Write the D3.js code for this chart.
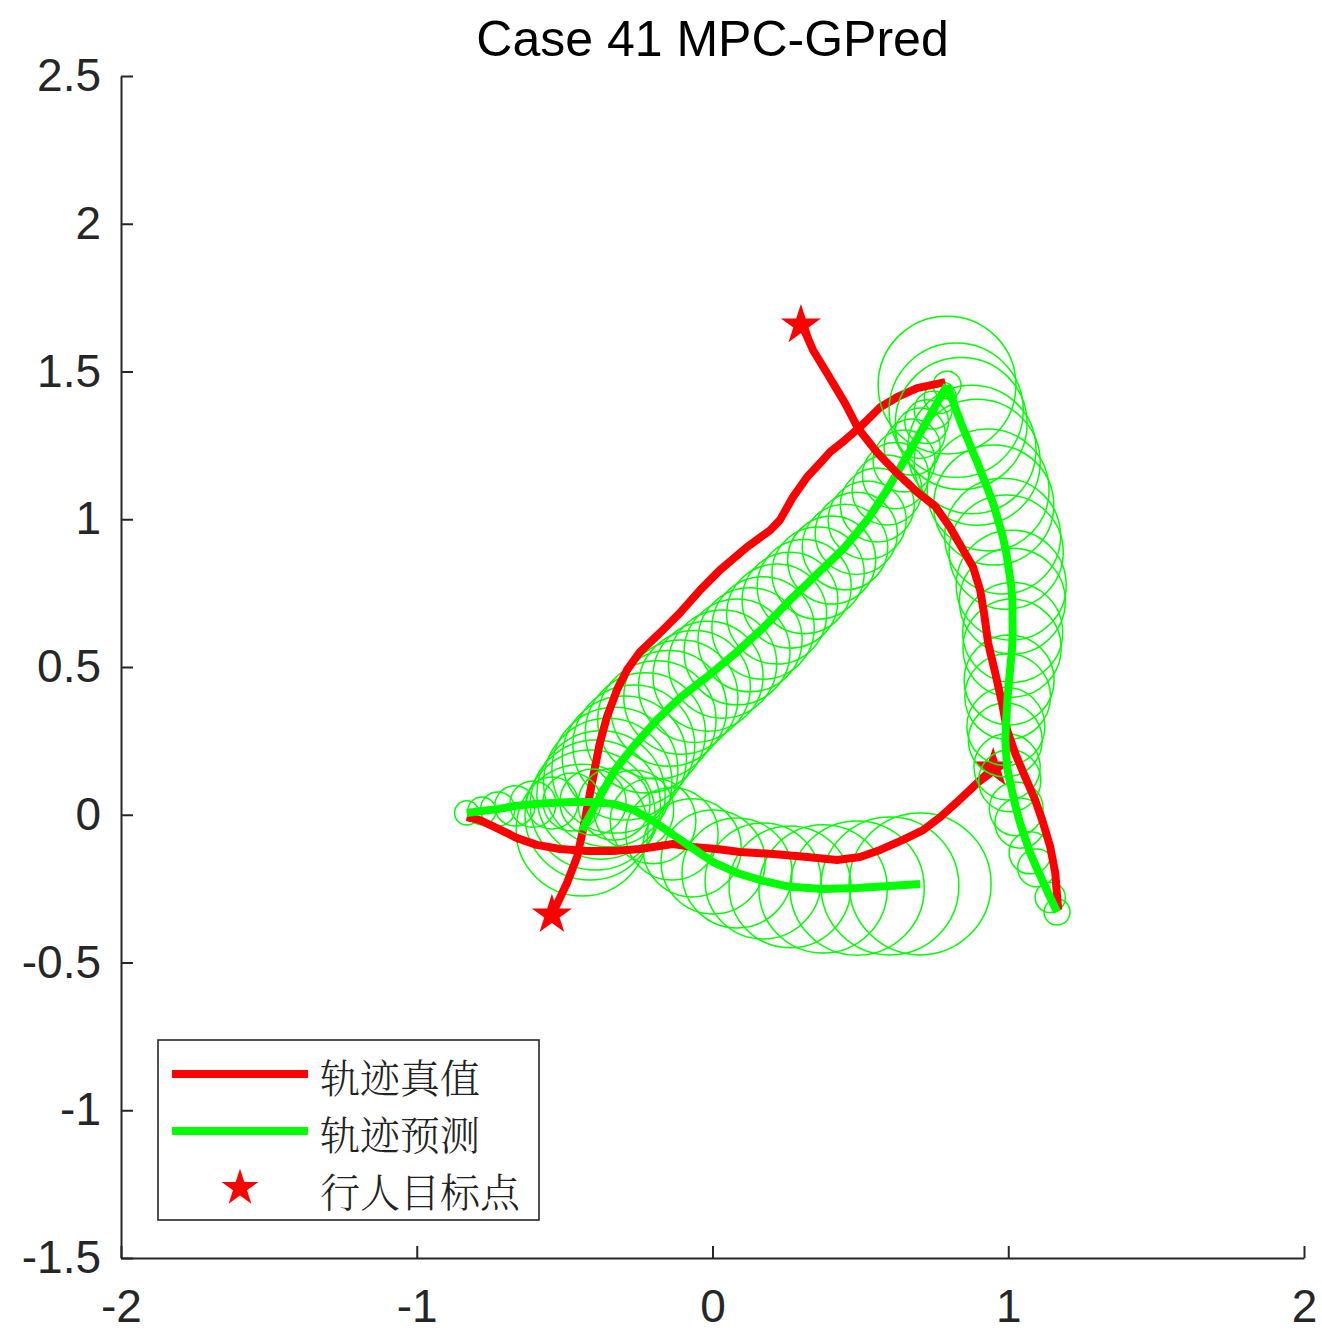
<!DOCTYPE html>
<html>
<head>
<meta charset="utf-8">
<script src="https://cdn.jsdelivr.net/npm/d3@7"></script>
<style>
  html, body { margin: 0; padding: 0; background: #fff; }
  svg { display: block; }
</style>
</head>
<body>
<svg id="chart" width="1322" height="1335"></svg>
<script>
const TITLE = 'Case 41 MPC-GPred';
const LEGEND_LABELS = ['轨迹真值', '轨迹预测', '行人目标点'];
const X_TICKS = [-2, -1, 0, 1, 2];
const Y_TICKS = [-1.5, -1, -0.5, 0, 0.5, 1, 1.5, 2, 2.5];

// ground truth (red), last point sits on the goal star
const truth1 = [
  [1.169, -0.322], [1.159, -0.197], [1.142, -0.109], [1.118, -0.028], [1.091, 0.050],
  [1.057, 0.128], [1.023, 0.209], [0.996, 0.287], [0.979, 0.378], [0.956, 0.480],
  [0.932, 0.581], [0.918, 0.683], [0.905, 0.760], [0.881, 0.838], [0.844, 0.902],
  [0.803, 0.973], [0.753, 1.044], [0.692, 1.092], [0.624, 1.156], [0.556, 1.227],
  [0.492, 1.308], [0.448, 1.393], [0.391, 1.488], [0.340, 1.572], [0.313, 1.633],
  [0.299, 1.657]
];
const truth2 = [
  [0.787, 1.464], [0.692, 1.444], [0.624, 1.413], [0.567, 1.379], [0.499, 1.312],
  [0.448, 1.268], [0.397, 1.227], [0.364, 1.190], [0.320, 1.143], [0.272, 1.075],
  [0.228, 0.997], [0.195, 0.963], [0.117, 0.906], [0.025, 0.828], [-0.042, 0.760],
  [-0.110, 0.683], [-0.178, 0.615], [-0.245, 0.551], [-0.289, 0.490], [-0.323, 0.422],
  [-0.357, 0.331], [-0.381, 0.243], [-0.397, 0.162], [-0.414, 0.074], [-0.438, -0.052],
  [-0.458, -0.143], [-0.492, -0.231], [-0.543, -0.339]
];
const truth3 = [
  [-0.831, -0.008], [-0.787, -0.018], [-0.729, -0.045], [-0.661, -0.079], [-0.594, -0.102],
  [-0.516, -0.116], [-0.425, -0.123], [-0.337, -0.123], [-0.245, -0.116], [-0.178, -0.106],
  [-0.134, -0.099], [-0.066, -0.109], [0.015, -0.116], [0.093, -0.126], [0.205, -0.133],
  [0.320, -0.143], [0.421, -0.153], [0.499, -0.143], [0.567, -0.119], [0.644, -0.085],
  [0.712, -0.052], [0.770, -0.008], [0.827, 0.043], [0.881, 0.094], [0.949, 0.158]
];

// predicted positions (green) and uncertainty radius at each step
const pred1 = [
  [1.165, -0.329], [1.142, -0.280], [1.096, -0.180], [1.074, -0.129], [1.040, -0.028],
  [1.027, 0.020], [1.005, 0.115], [0.996, 0.162], [0.990, 0.253], [0.992, 0.299],
  [0.998, 0.400], [1.003, 0.456], [1.013, 0.564], [1.015, 0.617], [1.014, 0.723],
  [1.010, 0.777], [0.993, 0.889], [0.981, 0.943], [0.951, 1.048], [0.932, 1.099],
  [0.895, 1.193], [0.877, 1.236], [0.841, 1.324], [0.824, 1.369], [0.793, 1.454]
];
const radius1 = [0.044, 0.051, 0.064, 0.071, 0.085, 0.091, 0.105, 0.112, 0.125, 0.132,
  0.145, 0.152, 0.166, 0.169, 0.179, 0.186, 0.193, 0.196, 0.203, 0.206,
  0.213, 0.217, 0.223, 0.227, 0.233];

const pred2 = [
  [0.793, 1.454], [0.770, 1.412], [0.746, 1.369], [0.724, 1.330], [0.702, 1.291],
  [0.675, 1.244], [0.648, 1.197], [0.619, 1.148], [0.590, 1.099], [0.557, 1.048],
  [0.523, 0.997], [0.486, 0.952], [0.448, 0.906], [0.403, 0.862], [0.357, 0.818],
  [0.310, 0.772], [0.262, 0.726], [0.217, 0.679], [0.171, 0.632], [0.127, 0.592],
  [0.083, 0.551], [0.034, 0.510], [-0.015, 0.469], [-0.061, 0.434], [-0.107, 0.398],
  [-0.148, 0.360], [-0.188, 0.321], [-0.227, 0.277], [-0.266, 0.233], [-0.298, 0.192],
  [-0.330, 0.151], [-0.354, 0.109], [-0.377, 0.067], [-0.396, 0.033], [-0.414, -0.001],
  [-0.441, -0.052]
];
const radius2 = [0.047, 0.054, 0.064, 0.074, 0.085, 0.095, 0.105, 0.112, 0.118, 0.125,
  0.132, 0.139, 0.145, 0.149, 0.156, 0.159, 0.162, 0.169, 0.173, 0.176,
  0.179, 0.183, 0.186, 0.189, 0.193, 0.196, 0.200, 0.203, 0.206, 0.210,
  0.213, 0.217, 0.217, 0.220, 0.220, 0.223];

const pred3 = [
  [-0.831, 0.006], [-0.780, 0.013], [-0.726, 0.019], [-0.668, 0.030], [-0.607, 0.036],
  [-0.543, 0.040], [-0.475, 0.043], [-0.404, 0.043], [-0.333, 0.036], [-0.266, 0.016],
  [-0.201, -0.021], [-0.137, -0.065], [-0.069, -0.112], [0.002, -0.160], [0.083, -0.197],
  [0.171, -0.224], [0.262, -0.244], [0.374, -0.251], [0.489, -0.248], [0.600, -0.241],
  [0.702, -0.234]
];
const radius3 = [0.041, 0.047, 0.058, 0.068, 0.078, 0.088, 0.098, 0.112, 0.122, 0.135,
  0.145, 0.156, 0.166, 0.176, 0.186, 0.196, 0.206, 0.217, 0.227, 0.233, 0.240];

const goals = [[0.299, 1.657], [-0.543, -0.339], [0.949, 0.158]];

const RED = '#ff0000';
const GREEN = '#00ff00';
const AXIS_COLOR = '#262626';
const FONT = '"Liberation Sans", Arial, Helvetica, sans-serif';
const CJK_FONT = '"Noto Serif CJK SC", "Noto Sans CJK SC", sans-serif';

function translate(x, y) {
  return `translate(${x}, ${y})`;
}

function draw() {
  const svg = d3.select('#chart');

  const x = d3.scaleLinear().domain([-2, 2]).range([121, 1304]);
  const y = d3.scaleLinear().domain([-1.5, 2.5]).range([1258, 76]);

  const line = d3.line()
    .x(d => x(d[0]))
    .y(d => y(d[1]));

  // draw order follows the picture: diagonal walker, bottom walker, right walker
  const peds = [
    {truth: truth2, pred: pred2, radius: radius2, goal: goals[1]},
    {truth: truth3, pred: pred3, radius: radius3, goal: goals[2]},
    {truth: truth1, pred: pred1, radius: radius1, goal: goals[0]},
  ];

  const plot = svg.append('g').attr('class', 'plot');

  peds.forEach(p => {
    const g = plot.append('g');

    g.selectAll('circle')
      .data(p.pred.map((d, i) => ({c: d, r: p.radius[i]})))
      .enter().append('circle')
        .attr('cx', d => x(d.c[0]))
        .attr('cy', d => y(d.c[1]))
        .attr('r', d => x(d.r) - x(0))
        .attr('fill', 'none')
        .attr('stroke', GREEN)
        .attr('stroke-width', 1.5);

    g.append('path')
      .attr('d', line(p.truth))
      .attr('fill', 'none')
      .attr('stroke', RED)
      .attr('stroke-width', 8)
      .attr('stroke-linejoin', 'round');

    g.append('path')
      .attr('d', d3.symbol(d3.symbolStar, 500)())
      .attr('transform', translate(x(p.goal[0]), y(p.goal[1])))
      .attr('fill', RED);

    g.append('path')
      .attr('d', line(p.pred))
      .attr('fill', 'none')
      .attr('stroke', GREEN)
      .attr('stroke-width', 8)
      .attr('stroke-linejoin', 'round');
  });

  const xAxis = svg.append('g')
    .attr('transform', translate(0, 1258))
    .call(d3.axisBottom(x)
      .tickValues(X_TICKS)
      .tickFormat(d => String(d))
      .tickSizeInner(-12)
      .tickSizeOuter(0)
      .tickPadding(31));

  const yAxis = svg.append('g')
    .attr('transform', translate(121, 0))
    .call(d3.axisLeft(y)
      .tickValues(Y_TICKS)
      .tickFormat(d => String(d))
      .tickSizeInner(-12)
      .tickSizeOuter(0)
      .tickPadding(20));

  [xAxis, yAxis].forEach(a => {
    a.select('.domain').attr('stroke', AXIS_COLOR).attr('stroke-width', 2);
    a.selectAll('.tick line').attr('stroke', AXIS_COLOR).attr('stroke-width', 2);
    a.selectAll('.tick text')
      .attr('fill', AXIS_COLOR)
      .style('font-family', FONT)
      .style('font-size', '46px');
  });

  svg.append('text')
    .attr('x', x(0))
    .attr('y', 56)
    .attr('text-anchor', 'middle')
    .attr('fill', '#000')
    .style('font-family', FONT)
    .style('font-size', '50px')
    .text(TITLE);

  // legend
  const legend = svg.append('g').attr('class', 'legend');
  legend.append('rect')
    .attr('x', 158)
    .attr('y', 1040)
    .attr('width', 381)
    .attr('height', 180)
    .attr('fill', '#fff')
    .attr('stroke', AXIS_COLOR)
    .attr('stroke-width', 1.6);

  const rowY = [1074, 1131, 1188];

  legend.append('line')
    .attr('x1', 172).attr('x2', 308)
    .attr('y1', rowY[0]).attr('y2', rowY[0])
    .attr('stroke', RED).attr('stroke-width', 8);

  legend.append('line')
    .attr('x1', 172).attr('x2', 308)
    .attr('y1', rowY[1]).attr('y2', rowY[1])
    .attr('stroke', GREEN).attr('stroke-width', 8);

  legend.append('path')
    .attr('d', d3.symbol(d3.symbolStar, 420)())
    .attr('transform', translate(240, rowY[2]))
    .attr('fill', RED);

  legend.selectAll('text.label')
    .data(LEGEND_LABELS)
    .enter().append('text')
      .attr('class', 'label')
      .attr('x', 320)
      .attr('y', (d, i) => rowY[i] + 1)
      .attr('dominant-baseline', 'central')
      .attr('fill', '#222')
      .style('font-family', CJK_FONT)
      .style('font-size', '40px')
      .style('font-weight', 300)
      .text(d => d);
}

draw();
</script>
</body>
</html>
